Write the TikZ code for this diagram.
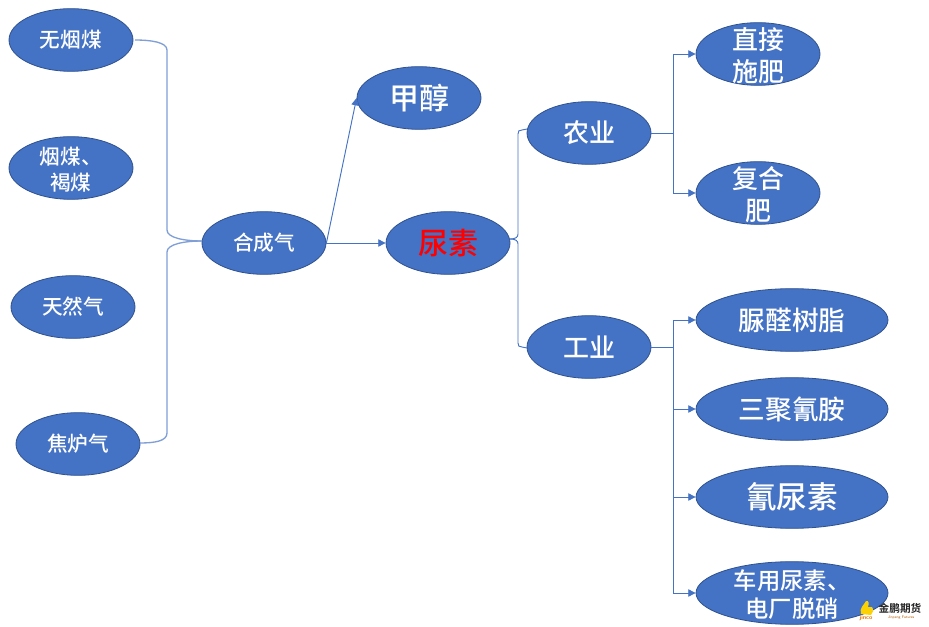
\documentclass[tikz,border=0pt]{standalone}
\usepackage{fontspec}
\usetikzlibrary{shapes.geometric,arrows.meta}
\newfontfamily\cjk{Noto Sans CJK SC Medium}
\newfontfamily\cjkb{Noto Sans CJK SC Bold}
\definecolor{fillb}{HTML}{4472C4}
\definecolor{edgeb}{HTML}{2F528F}
\definecolor{brc}{HTML}{7F9FD6}
\tikzset{
 x=0.75pt,y=-0.75pt,
 oval/.style={ellipse,draw=edgeb,line width=0.6pt,fill=fillb,text=white,inner sep=0pt,align=center,font=\cjk\fontsize{15.5}{19}\selectfont},
 ssmall/.style={oval,minimum width=93pt,minimum height=47pt},
 wide/.style={oval,minimum width=144pt,minimum height=47pt},
 fs/.style={font=\cjk\fontsize{#1}{#1}\selectfont},
 tl/.style={text=white,align=center,inner sep=0pt,yshift=-1pt},
 conn/.style={draw=fillb,line width=0.7pt},
 arr/.style={conn,-{Triangle[length=5.5pt,width=5.5pt]}},
 brace/.style={draw=brc,line width=1pt}
}
\begin{document}
\begin{tikzpicture}
\useasboundingbox (0,0) rectangle (929,627);
\fill[white] (0,0) rectangle (929,627);
\node[ssmall] (a1) at (71,40) {无烟煤};
\node[ssmall,label={[tl,font=\cjk\fontsize{15.5}{19.5}\selectfont,name=a2t]center:烟煤、\\褐煤}] (a2) at (71,168) {};
\node[ssmall] (a3) at (73,307) {天然气};
\node[ssmall] (a4) at (78,444) {焦炉气};
\node[ssmall] (syn) at (264,243) {合成气};
\node[ssmall,fs=22.5] (me) at (419,98) {甲醇};
\node[ssmall,text=red,fs=22.5] (ur) at (448,243) {尿素};
\node[ssmall,fs=19.5] (ag) at (589,133) {农业};
\node[ssmall,fs=19.5] (in) at (589,347) {工业};
\node[ssmall,label={[tl,font=\cjk\fontsize{19.5}{24}\selectfont,name=z1t]center:直接\\施肥}] (z1) at (758,54) {};
\node[ssmall,label={[tl,font=\cjk\fontsize{19.5}{24}\selectfont,name=z2t]center:复合\\肥}] (z2) at (758,193) {};
\node[wide,fs=20] (g1) at (792,320) {脲醛树脂};
\node[wide,fs=20] (g2) at (792,409) {三聚氰胺};
\node[wide,fs=23] (g3) at (792,497) {氰尿素};
\node[wide,label={[tl,font=\cjk\fontsize{17.5}{21}\selectfont,name=g4t]center:车用尿素、\\电厂脱硝}] (g4) at (792,593) {};
% left brace
\coordinate (b1) at (135,40);
\coordinate (b2) at (140,443);
\coordinate (bt) at (202,241);
\draw[brace] (b1) .. controls (150,40) and (167,42) .. (167,50) -- (167,230) .. controls (167,238) and (185,241) .. (bt);
\draw[brace] (b2) .. controls (155,443) and (167,441) .. (167,433) -- (167,252) .. controls (167,244) and (185,241) .. (bt);
% syngas
\draw[arr] (syn.east) -- (ur.west);
\draw[arr] (syn.east) -- (me.west);
% urea bracket
\coordinate (c1) at (527,129);
\coordinate (c2) at (527,348);
\coordinate (c0) at (510,239);
\draw[conn] (c1) -- (522,130) .. controls (519,130) and (518,131) .. (518,134) -- (518,234) .. controls (518,237) and (516,239) .. (c0);
\draw[conn] (c2) -- (522,347) .. controls (519,347) and (518,346) .. (518,343) -- (518,244) .. controls (518,241) and (516,239) .. (c0);
% agriculture
\coordinate (ja) at (673,133);
\draw[conn] (ag.east) -- (ja);
\draw[arr] (ja) |- (z1.west);
\draw[arr] (ja) |- (z2.west);
% industry
\coordinate (ji) at (673,347);
\draw[conn] (in.east) -- (ji);
\draw[arr] (ji) |- (g1.west);
\draw[arr] (ji) |- (g2.west);
\draw[arr] (ji) |- (g3.west);
\draw[arr] (ji) |- (g4.west);
% logo
\fill[yellow!70!orange] (861,614) .. controls (859,608) and (864,605) .. (866,601) .. controls (869,600) and (869,604) .. (868,607) -- (872,607) .. controls (874,610) and (873,613) .. (871,615) -- cycle;
\node[inner sep=0pt,font=\cjkb\fontsize{8}{9}\selectfont,text=black!85] (logotxt) at (900,608) {金鹏期货};
\node[inner sep=0pt,font=\sffamily\bfseries\fontsize{4.5}{4.5}\selectfont,text=orange!90!black] (logoa) at (866,618) {jinco};
\node[inner sep=0pt,font=\sffamily\fontsize{2.8}{3}\selectfont,text=orange!70!black] (logob) at (901,618) {Jinpeng Futures};
\end{tikzpicture}
\end{document}
